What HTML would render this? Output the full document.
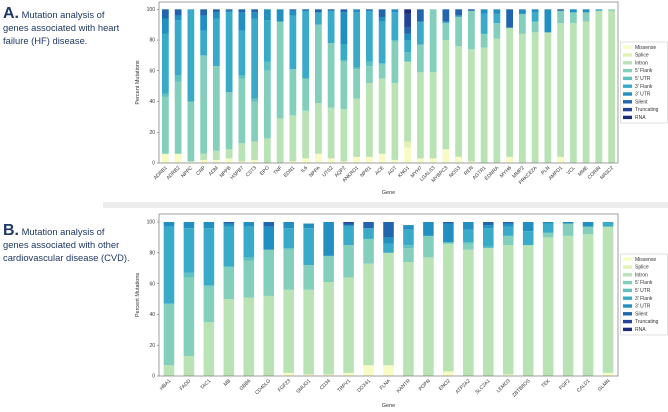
<!DOCTYPE html>
<html><head><meta charset="utf-8"><style>
body{margin:0;background:#fff;width:668px;height:412px;overflow:hidden;font-family:"Liberation Sans",sans-serif}
.t{position:absolute;left:3px;color:#1f3864;font-size:9.4px;line-height:13px;white-space:nowrap}
.t b{font-size:16px;font-weight:bold}
</style></head><body>
<div class="t" style="top:7px"><b>A.</b> Mutation analysis of<br>genes associated with heart<br>failure (HF) disease.</div>
<div class="t" style="top:224px"><b>B.</b> Mutation analysis of<br>genes associated with other<br>cardiovascular disease (CVD).</div>
<div style="position:absolute;left:103px;top:202px;width:565px;height:6px;background:#ececec"></div>
<svg id="svg" width="668" height="412" style="position:absolute;left:0;top:0"></svg>
<script>
const categories=["Missense","Splice","Intron","5' Flank","5' UTR","3' Flank","3' UTR","Silent","Truncating","RNA"];
const colors=["#f7fbc4","#e2f2b2","#b9e2b5","#84cfbb","#5ec1c0","#39abc8","#2190c1","#2166ad","#24439a","#1b2c7b"];
const genesA=["ADRB1","ADRB2","NPPC","CRP","ADM","NPPB","HSPB7","CST3","EPO","TNF","EDN1","IL6","NPPA","UTS2","AQP2","ANKRD1","NPR1","ACE","AGT","KNG1","MYH7","LGALS3","MYBPC3","NOS3","REN","AGTR1","EDNRA","MYH6","MMP2","PRKCE2A","PLN","AMPD1","VCL","MME","CORIN","NR3C2"];
// values per gene: [Missense,Splice,Intron,5'Flank,5'UTR,3'Flank,3'UTR,Silent,Truncating,RNA]
const valuesA=[
[6,0,0,37,2,39,10,6,0,0],[6,0,0,47,4,36,3,4,0,0],[1,0,0,39,0,60,0,0,0,0],[2,0,4,64,0,16,10,4,0,0],
[2,0,6,55,0,31,4,2,0,0],[3,0,6,37,0,52,1,1,0,0],[1,0,12,42,2,29,12,2,0,0],[2,0,12,26,2,52,4,2,0,0],
[0,0,16,44,6,27,7,0,0,0],[0,0,29,63,0,0,8,0,0,0],[1,0,30,30,0,35,3,1,0,0],[3,0,31,21,0,44,0,1,0,0],
[6,0,33,51,0,8,0,2,0,0],[3,0,33,42,0,21,0,1,0,0],[1,0,34,31,1,10,21,2,0,0],[4,0,38,19,1,36,2,0,0,0],
[4,0,48,11,3,33,0,1,0,0],[6,0,49,9,1,27,3,5,0,0],[2,0,50,27,1,18,2,0,0,0],[10,4,52,0,6,8,4,4,9,3],
[3,0,56,18,0,15,0,8,0,0],[3,0,56,41,0,0,0,0,0,0],[9,0,71,11,0,1,0,8,0,0],[4,0,72,19,0,1,0,4,0,0],
[1,0,73,25,0,0,0,1,0,0],[0,0,75,9,0,13,3,0,0,0],[0,0,81,10,0,6,3,0,0,0],[4,0,84,0,0,0,0,12,0,0],
[0,0,84,13,0,0,3,0,0,0],[0,0,85,7,0,6,2,0,0,0],[0,0,85,0,0,0,15,0,0,0],[4,0,87,8,0,0,0,1,0,0],
[0,0,91,7,0,0,2,0,0,0],[0,0,92,6,0,0,2,0,0,0],[0,0,99,0,0,1,0,0,0,0],[0,0,99,1,0,0,0,0,0,0]];
const genesB=["HBA1","FADD","TAC1","MB","GBB6","CD40LG","FGF23","SMUG1","CD34","TRPV1","DDX41","FLNA","KANTR","PDPN","ENO2","ATP2A2","SLC2A1","LEMD3","ZBTB8OS","TEK","FGF2","CALD1","GLMN"];
const valuesB=[
[0,0,7,40,0,50,3,0,0,0],[0,0,13,51,3,29,4,0,0,0],[0,0,35,23,1,37,4,0,0,0],[0,0,50,21,0,26,2,1,0,0],
[0,0,51,24,2,20,3,0,0,0],[0,0,52,30,0,0,15,3,0,0],[2,0,54,26,1,13,4,0,0,0],[1,0,55,16,0,24,3,0,0,0],
[1,0,60,17,0,0,22,0,0,0],[2,0,62,21,0,12,1,1,1,0],[7,0,66,16,0,7,0,4,0,0],[7,0,73,0,0,6,4,10,0,0],
[0,0,74,9,2,10,3,0,0,0],[0,0,77,14,0,0,9,0,0,0],[3,0,83,0,1,0,12,1,0,0],[0,0,82,4,1,8,5,0,0,0],
[0,0,83,0,1,12,2,2,0,0],[1,0,84,6,0,6,2,1,0,0],[0,0,85,0,0,9,6,0,0,0],[0,0,90,3,0,6,1,0,0,0],
[0,0,91,8,0,0,1,0,0,0],[0,0,92,5,0,0,3,0,0,0],[2,0,95,0,0,3,0,0,0,0]];
const yTicks=[0,20,40,60,80,100];
const NS="http://www.w3.org/2000/svg";
const svg=document.getElementById('svg');
function mk(tag,attrs,parent){const e=document.createElementNS(NS,tag);for(const k in attrs)e.setAttribute(k,attrs[k]);(parent||svg).appendChild(e);return e;}
function panel(p,genes,values,L,R,T,B,y100,legTop,labelY){
  const g=mk('g',{});
  
  
  const step=(R-L)/genes.length;
  const xs=i=>L+step*(i+0.5);
  const ys=v=>B-(B-y100)*v/100;
  const bw=step*0.53;
  genes.forEach((gn,i)=>{
    let acc=0;
    values[i].forEach((v,c)=>{
      if(v<=0)return;
      const r=mk('rect',{x:xs(i)-bw/2,y:ys(acc+v),width:bw,height:ys(acc)-ys(acc+v),fill:colors[c]},g);
      
      
      acc+=v;
    });
    const t=mk('text',{x:xs(i)+2,y:B+5,'font-size':5,'text-anchor':'end',fill:'#333',transform:'rotate(-45 '+(xs(i)+2)+' '+(B+5)+')'},g);
    t.textContent=gn;
    
    
  });
  mk('rect',{x:L,y:T,width:R-L,height:B-T,fill:'none',stroke:'#888','stroke-width':0.8},g);
  yTicks.forEach(v=>{
    mk('line',{x1:L-2,x2:L,y1:ys(v),y2:ys(v),stroke:'#555','stroke-width':0.5},g);
    const t=mk('text',{x:L-4,y:ys(v)+1.7,'font-size':5,'text-anchor':'end',fill:'#333'},g);
    t.textContent=v;
    
    
  });
  const yl=mk('text',{x:0,y:0,'font-size':5.5,'text-anchor':'middle',fill:'#333',transform:'translate(139 '+((T+B)/2)+') rotate(-90)'},g);
  yl.textContent='Percent Mutations';
  
  
  const xl=mk('text',{x:(L+R)/2,y:labelY,'font-size':5.5,'text-anchor':'middle',fill:'#333'},g);
  xl.textContent='Gene';
  
  
  const lg=mk('g',{},g);
  
  
  mk('rect',{x:620.5,y:legTop,width:47,height:81,fill:'#fff',stroke:'#ccc','stroke-width':0.6},lg);
  categories.forEach((c,k)=>{
    const yy=legTop+5+k*7.8;
    mk('rect',{x:623,y:yy-1.5,width:9,height:3.4,fill:colors[k]},lg);
    const t=mk('text',{x:635,y:yy+1.8,'font-size':5,fill:'#333'},lg);
    t.textContent=c;
    
    
  });
}
panel('a',genesA,valuesA,159,618,2,163,9.3,42,194);
panel('b',genesB,valuesB,159,618,214,376,222,254,407);
</script>
</body></html>
